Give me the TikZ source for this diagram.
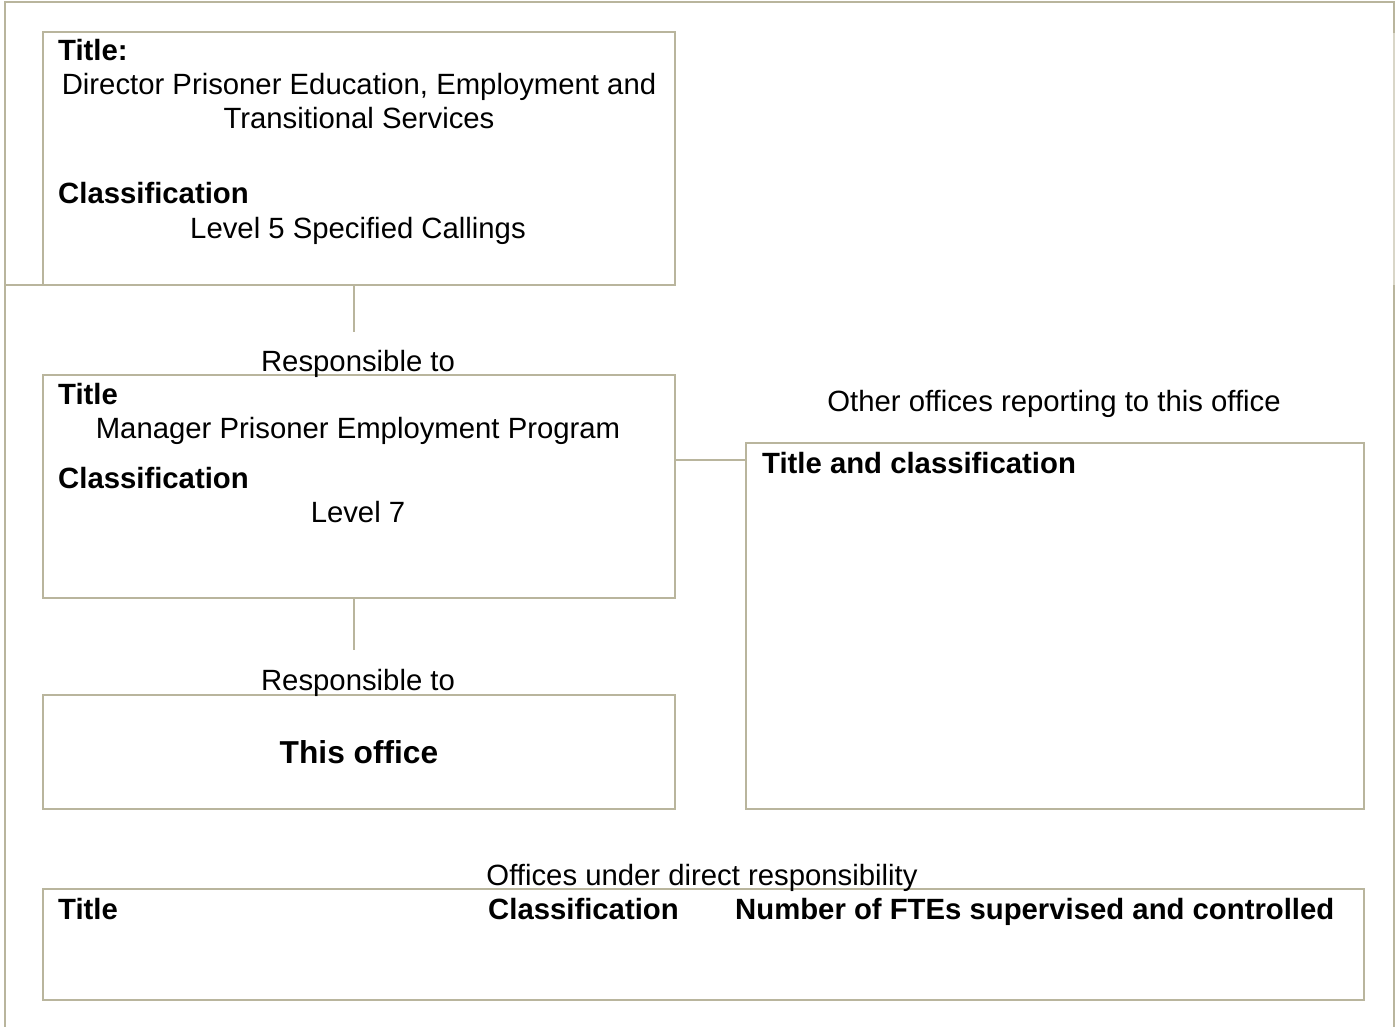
\documentclass[tikz,border=0pt]{standalone}
\usepackage{fontspec}
\setmainfont{Liberation Sans}
\definecolor{frame}{HTML}{B9B59D}
\definecolor{framelight}{HTML}{D9D6C8}
\begin{document}
\begin{tikzpicture}[x=1pt,y=-1pt,
  box/.style={draw=frame, line width=2pt, rectangle, inner sep=0pt, outer sep=0pt, anchor=north west},
  conn/.style={draw=frame, line width=2pt},
  txt/.style={inner sep=0pt, font=\fontsize{29.3}{34}\selectfont},
  btxt/.style={inner sep=0pt, font=\fontsize{29.3}{34}\selectfont\bfseries},
  lt/.style={txt, anchor=base west},
  ct/.style={txt, anchor=base},
  lb/.style={btxt, anchor=base west}]
\useasboundingbox (0,0) rectangle (1397,1027);
% outer frame
\draw[conn] (5,1027) -- (5,2) -- (1394,2) -- (1394,33);
\draw[draw=framelight, line width=2pt] (1394,33) -- (1394,285);
\draw[conn] (1394,285) -- (1394,1027);
% boxes
\node[box, minimum width=632pt, minimum height=253pt] (b1) at (43,32) {};
\node[box, minimum width=632pt, minimum height=223pt] (b2) at (43,375) {};
\node[box, minimum width=618pt, minimum height=366pt] (b3) at (746,443) {};
\node[box, minimum width=632pt, minimum height=114pt] (b4) at (43,695) {};
\node[box, minimum width=1321pt, minimum height=111pt] (b5) at (43,889) {};
% connectors
\coordinate (f1) at (4,285);
\coordinate (c1) at (354,332);
\coordinate (c2) at (354,650);
\coordinate (j) at (0,460);
\draw[conn] (f1) -- (b1.south west);
\draw[conn] (b1.south -| c1) -- (c1);
\draw[conn] (b2.south -| c2) -- (c2);
\draw[conn] (b2.east |- j) -- (b3.west |- j);
% box 1 texts
\node[lb] (t1) at (58,61) {Title:};
\node[ct] (t2) at (359,95) {Director Prisoner Education, Employment and};
\node[ct] (t3) at (359,129) {Transitional Services};
\node[lb] (t4) at (58,204) {Classification};
\node[ct] (t5) at (358,238) {Level 5 Specified Callings};
% responsible
\node[ct] (r1) at (358,371) {Responsible to};
% box 2
\node[lb] (t6) at (58,404) {Title};
\node[ct] (t7) at (358,438) {Manager Prisoner Employment Program};
\node[lb] (t8) at (58,488) {Classification};
\node[ct] (t9) at (358,522) {Level 7};
% box 3
\node[ct] (o1) at (1054,411) {Other offices reporting to this office};
\node[lb] (t10) at (762,473) {Title and classification};
% box 4
\node[ct] (r2) at (358,690) {Responsible to};
\node[btxt, anchor=base, font=\fontsize{31.7}{36}\selectfont\bfseries] (t11) at (359,763) {This office};
% box 5
\node[ct] (o2) at (702,885) {Offices under direct responsibility};
\node[lb] (t12) at (58,919) {Title};
\node[lb] (t13) at (488,919) {Classification};
\node[lb] (t14) at (735,919) {Number of FTEs supervised and controlled};
\end{tikzpicture}
\end{document}
